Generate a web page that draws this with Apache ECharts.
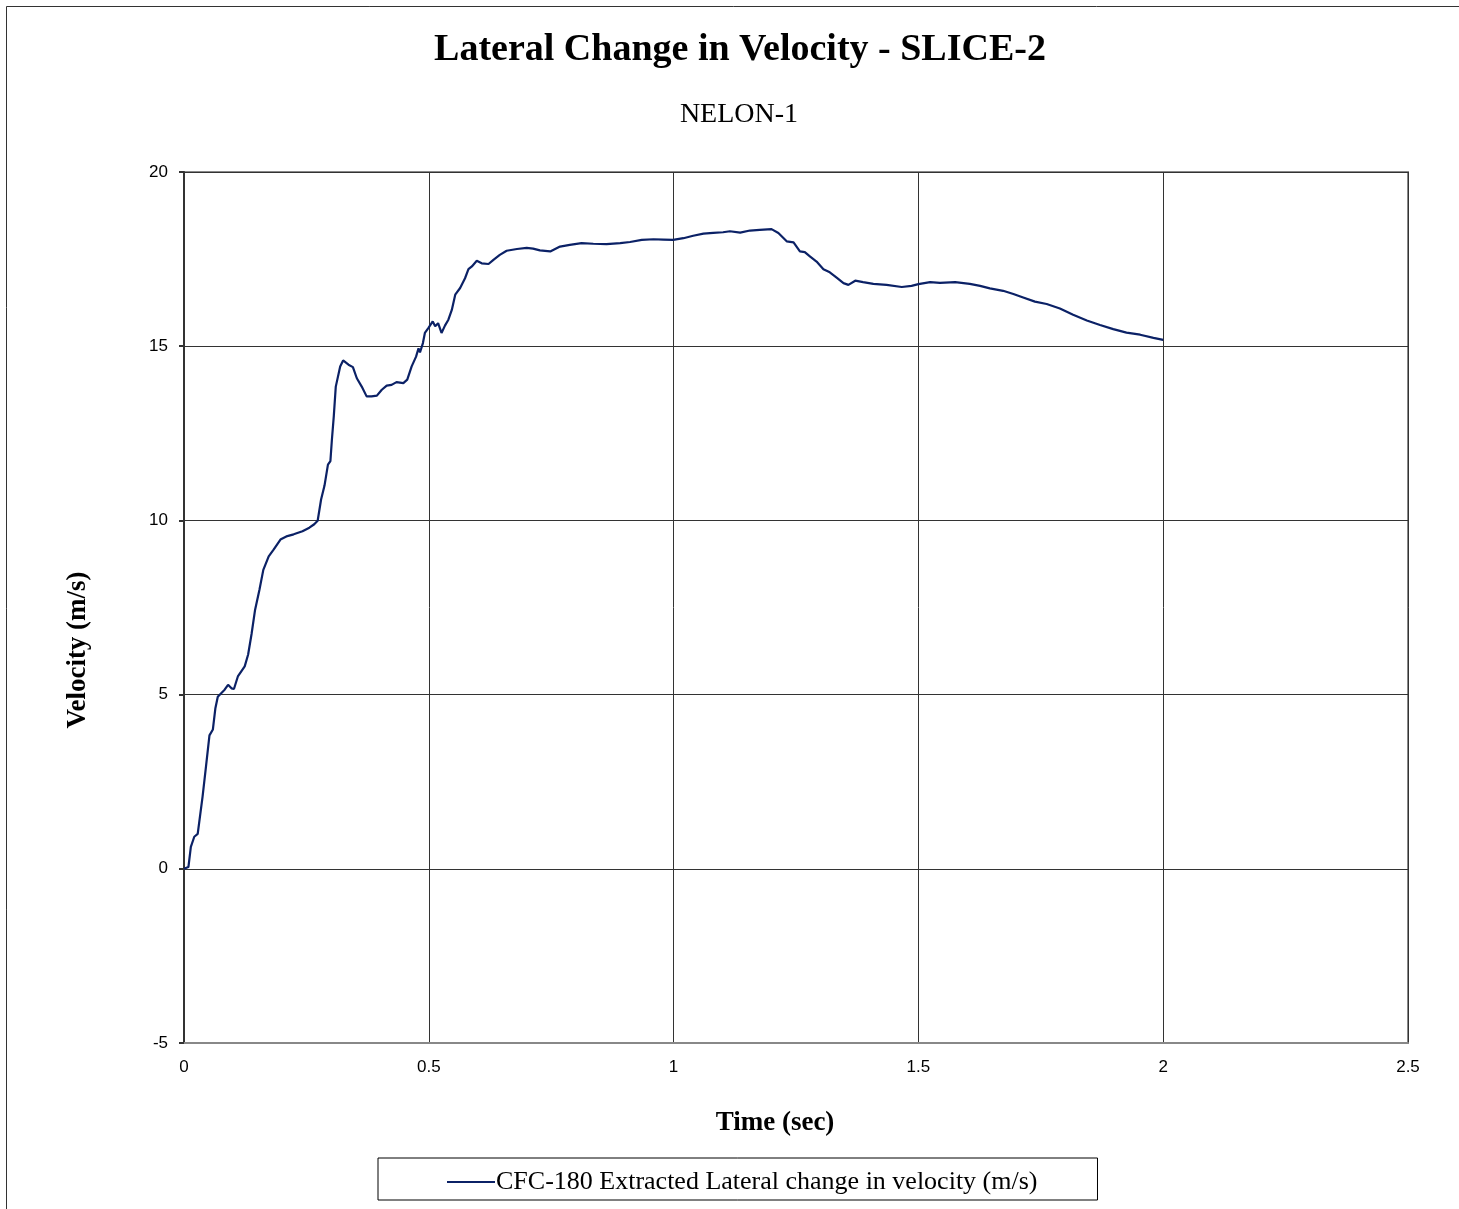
<!DOCTYPE html>
<html>
<head>
<meta charset="utf-8">
<script src="https://cdn.jsdelivr.net/npm/echarts@6/dist/echarts.min.js"></script>
<style>
html,body{margin:0;padding:0;background:#fff;}
#chart{width:1459px;height:1209px;}
</style>
</head>
<body>
<div id="chart"></div>
<script>
var titleText = "Lateral Change in Velocity - SLICE-2";
var subtitleText = "NELON-1";
var xAxisName = "Time (sec)";
var yAxisName = "Velocity (m/s)";
var seriesName = "CFC-180 Extracted Lateral change in velocity (m/s)";

var timeSec = [
  0.000, 0.003, 0.009, 0.014, 0.021, 0.028, 0.038, 0.045, 0.052, 0.059, 0.064, 0.069,
  0.076, 0.083, 0.090, 0.097, 0.102, 0.110, 0.124, 0.131, 0.138, 0.145, 0.154, 0.162,
  0.173, 0.183, 0.197, 0.211, 0.224, 0.242, 0.256, 0.266, 0.273, 0.280, 0.287, 0.294,
  0.299, 0.302, 0.306, 0.310, 0.319, 0.325, 0.336, 0.345, 0.353, 0.363, 0.373, 0.383,
  0.394, 0.404, 0.414, 0.424, 0.434, 0.448, 0.456, 0.465, 0.474, 0.479, 0.482, 0.488,
  0.492, 0.499, 0.508, 0.513, 0.519, 0.526, 0.533, 0.540, 0.547, 0.554, 0.564, 0.574,
  0.581, 0.588, 0.598, 0.608, 0.622, 0.632, 0.645, 0.659, 0.680, 0.700, 0.713, 0.727,
  0.748, 0.768, 0.788, 0.812, 0.836, 0.863, 0.891, 0.911, 0.935, 0.959, 0.979, 0.999,
  1.020, 1.040, 1.061, 1.081, 1.101, 1.115, 1.136, 1.156, 1.176, 1.200, 1.214, 1.231,
  1.245, 1.258, 1.268, 1.279, 1.292, 1.306, 1.319, 1.333, 1.347, 1.357, 1.371, 1.387,
  1.408, 1.435, 1.466, 1.486, 1.500, 1.524, 1.544, 1.575, 1.605, 1.626, 1.646, 1.673,
  1.694, 1.714, 1.738, 1.762, 1.789, 1.816, 1.844, 1.871, 1.898, 1.925, 1.953, 1.980,
  2.000
];
var velocity = [
  0.00, 0.00, 0.05, 0.63, 0.92, 1.00, 2.08, 2.95, 3.83, 4.00, 4.60, 4.94,
  5.04, 5.14, 5.28, 5.18, 5.16, 5.52, 5.81, 6.15, 6.74, 7.42, 8.00, 8.58,
  8.97, 9.16, 9.45, 9.55, 9.60, 9.69, 9.79, 9.89, 9.99, 10.60, 11.00, 11.60,
  11.70, 12.30, 13.00, 13.84, 14.42, 14.59, 14.47, 14.40, 14.08, 13.84, 13.56, 13.56,
  13.58, 13.75, 13.87, 13.89, 13.97, 13.94, 14.04, 14.42, 14.70, 14.94, 14.82, 15.09,
  15.38, 15.52, 15.71, 15.57, 15.66, 15.38, 15.59, 15.76, 16.04, 16.48, 16.67, 16.95,
  17.21, 17.29, 17.45, 17.38, 17.36, 17.48, 17.62, 17.74, 17.79, 17.82, 17.80, 17.75,
  17.72, 17.86, 17.91, 17.96, 17.94, 17.93, 17.96, 17.99, 18.05, 18.07, 18.06, 18.05,
  18.10, 18.17, 18.23, 18.25, 18.27, 18.30, 18.26, 18.32, 18.34, 18.36, 18.25, 18.01,
  17.98, 17.72, 17.70, 17.57, 17.43, 17.21, 17.12, 16.97, 16.81, 16.76, 16.88, 16.84,
  16.79, 16.76, 16.70, 16.73, 16.78, 16.84, 16.82, 16.84, 16.79, 16.73, 16.66, 16.59,
  16.50, 16.40, 16.28, 16.21, 16.08, 15.90, 15.74, 15.61, 15.49, 15.39, 15.33, 15.24,
  15.18
];

var lineColor = '#0b2166';
var serif = '"Liberation Serif", "Times New Roman", serif';
var sans = '"Liberation Sans", Arial, sans-serif';

var points = timeSec.map(function (t, i) { return [t, velocity[i]]; });

var chart = echarts.init(document.getElementById('chart'), null, {renderer: 'canvas'});
chart.setOption({
  backgroundColor: '#fff',
  animation: false,
  grid: {
    left: 184, top: 172, right: 51, bottom: 166,
    show: true, borderColor: '#888', borderWidth: 2, backgroundColor: 'transparent'
  },
  xAxis: {
    type: 'value', min: 0, max: 2.5, interval: 0.5,
    axisLine: {show: true, onZero: false, lineStyle: {color: '#888', width: 2}},
    axisTick: {show: false},
    axisLabel: {color: '#000', fontFamily: sans, fontSize: 17, margin: 16},
    splitLine: {show: true, lineStyle: {color: '#333', width: 1}}
  },
  yAxis: {
    type: 'value', min: -5, max: 20, interval: 5,
    axisLine: {show: true, onZero: false, lineStyle: {color: '#333', width: 2}},
    axisTick: {show: true, length: 5, lineStyle: {color: '#333', width: 2}},
    axisLabel: {color: '#000', fontFamily: sans, fontSize: 17, margin: 16},
    splitLine: {show: true, lineStyle: {color: '#333', width: 1}}
  },
  legend: {
    show: true,
    left: 378, top: 1158,
    padding: [11, 60, 5, 69],
    itemWidth: 48, itemHeight: 2, itemGap: 2,
    borderColor: '#000', borderWidth: 1,
    backgroundColor: '#fff',
    textStyle: {fontFamily: serif, fontSize: 26, color: '#000', padding: [0, 0, 0, -4]},
    data: [{name: seriesName, icon: 'rect'}]
  },
  series: [{
    name: seriesName,
    type: 'line',
    data: points,
    showSymbol: false,
    symbol: 'none',
    smooth: false,
    lineStyle: {color: lineColor, width: 2.2},
    itemStyle: {color: lineColor}
  }],
  graphic: [
    {type: 'rect', silent: true, shape: {x: 6.5, y: 6.5, width: 1600, height: 1400},
     style: {fill: 'none', stroke: '#333', lineWidth: 1}},
    {type: 'text', silent: true,
     style: {text: titleText, x: 740, y: 50, textAlign: 'center', textVerticalAlign: 'middle',
             font: 'bold 38px ' + serif, fill: '#000'}},
    {type: 'text', silent: true,
     style: {text: subtitleText, x: 739, y: 115, textAlign: 'center', textVerticalAlign: 'middle',
             font: '28px ' + serif, fill: '#000'}},
    {type: 'text', silent: true,
     style: {text: xAxisName, x: 775, y: 1123, textAlign: 'center', textVerticalAlign: 'middle',
             font: 'bold 27px ' + serif, fill: '#000'}},
    {type: 'text', silent: true, x: 78, y: 650, rotation: Math.PI / 2,
     style: {text: yAxisName, x: 0, y: 0, textAlign: 'center', textVerticalAlign: 'middle',
             font: 'bold 27px ' + serif, fill: '#000'}}
  ]
});
</script>
</body>
</html>
